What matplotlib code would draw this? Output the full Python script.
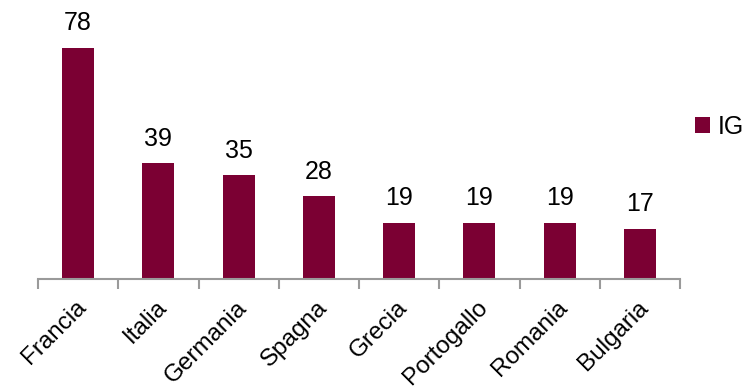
import matplotlib

matplotlib.use("Agg")
import matplotlib.pyplot as plt
import matplotlib.transforms as mtransforms
import numpy as np

plt.rcParams["font.family"] = ["Liberation Sans", "DejaVu Sans"]

countries = ["Francia", "Italia", "Germania", "Spagna", "Grecia", "Portogallo", "Romania", "Bulgaria"]
ig_values = [78, 39, 35, 28, 19, 19, 19, 17]
series_name = "IG"

BAR = "#7b0033"
AXIS = "#9a9a9a"

fig = plt.figure(figsize=(7.48, 3.92), dpi=100)
ax = fig.add_axes([38 / 748, 113 / 392, 642 / 748, 279 / 392])

x = np.arange(len(countries))
bars = ax.bar(x, ig_values, width=0.4, color=BAR, label=series_name)
for b, v in zip(bars, ig_values):
    ax.annotate(f"{v}", (b.get_x() + b.get_width() / 2, v), xytext=(0, 9),
                textcoords="offset points", ha="center", va="bottom", fontsize=18)

ax.set_xlim(-0.5, len(countries) - 0.5)
ax.set_ylim(0, 94.2)
for side in ("top", "right", "left"):
    ax.spines[side].set_visible(False)
ax.spines["bottom"].set_color(AXIS)
ax.spines["bottom"].set_linewidth(1.5)
ax.set_yticks([])

ax.set_xticks(x)
ax.set_xticklabels(countries, rotation=45, ha="right", rotation_mode="anchor", fontsize=17.5)
ax.tick_params(axis="x", which="major", length=0, pad=12.5)
shift = mtransforms.ScaledTranslation(-3 / 100, 0, fig.dpi_scale_trans)
for lbl in ax.get_xticklabels():
    lbl.set_transform(lbl.get_transform() + shift)
ax.set_xticks(np.arange(len(countries) + 1) - 0.5, minor=True)
ax.tick_params(axis="x", which="minor", length=7, width=1.5, color=AXIS)

fig.legend(loc="center left", bbox_to_anchor=(695 / 748, 1 - 127 / 392), frameon=False,
           fontsize=18, handlelength=0.6, handleheight=0.6, handletextpad=0.3,
           borderaxespad=0, borderpad=0)

fig.savefig("out.png", dpi=100, facecolor="white")
